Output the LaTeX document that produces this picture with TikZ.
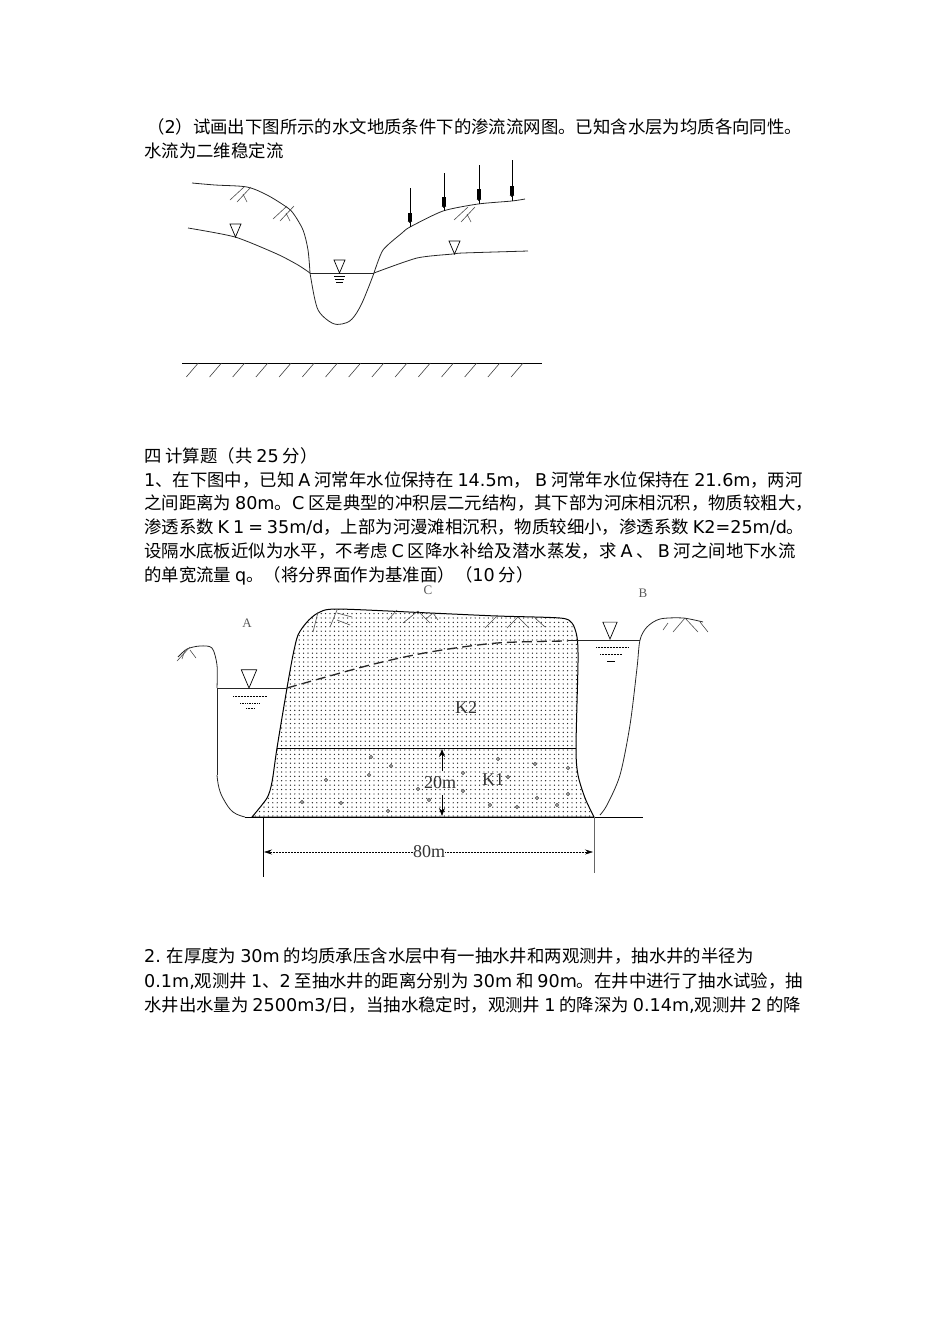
\documentclass[tikz,border=0pt]{standalone}
\usepackage{fontspec}
\usetikzlibrary{positioning, arrows.meta, patterns.meta}
\setmainfont{DejaVu Sans}
\newfontfamily\latinface[WordSpace=0.7]{DejaVu Sans}
\newfontfamily\cjkface{Noto Sans CJK SC}
\newfontfamily\figface{Liberation Serif}
% CJK characters switch the font by themselves
\chardef\cjkclass=7
\newcount\cjkcode
\cjkcode="4E00
\loop
	\XeTeXcharclass\cjkcode=\cjkclass
	\ifnum\cjkcode<"9FFF \advance\cjkcode by 1 \repeat
\XeTeXcharclass"3001=\cjkclass
\XeTeXcharclass"3002=\cjkclass
\XeTeXcharclass"FF08=\cjkclass
\XeTeXcharclass"FF09=\cjkclass
\XeTeXcharclass"FF0C=\cjkclass
\XeTeXinterchartoks 0 \cjkclass={\fontsize{17.4}{20}\cjkface}
\XeTeXinterchartoks 4095 \cjkclass={\fontsize{17.4}{20}\cjkface}
\XeTeXinterchartoks \cjkclass 0={\fontsize{17.6}{20}\latinface}
\XeTeXinterchartoks 4095 0={\fontsize{17.6}{20}\latinface}
\newcommand{\bodyfont}{\XeTeXinterchartokenstate 1\relax\fontsize{17.6}{20}\latinface}

\tikzset{
	textline/.style={inner sep=0pt, text height=14pt, text depth=4pt, anchor=north west, font=\bodyfont},
	nextline/.style={textline, below=6pt of #1.south west, anchor=north west},
	tightline/.style={textline, below=5.4pt of #1.south west, anchor=north west},
	figlabel/.style={inner sep=0pt, font=\figface\fontsize{18}{20}\selectfont, text=black!80},
	smalllabel/.style={inner sep=0pt, font=\figface\fontsize{13}{14}\selectfont, text=black!65},
	soil/.style={line width=0.8pt, black!85},
	levelmark/.pic={\draw[line width=0.7pt] (-5.5,-13) -- (5.5,-13) -- (0,0) -- cycle;},
	grassmark/.pic={
		\draw[line width=0.6pt, black!70] (0,0) -- (-14,13) (7,0) -- (-7,15) (-1,7) -- (3,15);
	},
}

\begin{document}
\begin{tikzpicture}[x=1pt, y=-1pt]
	\useasboundingbox (0,0) rectangle (950,1344);

	\node[textline] (q2a) at (147,119.5) {（2）试画出下图所示的水文地质条件下的渗流流网图。已知含水层为均质各向同性。};
	\node[textline] (q2b) at (144,143.5) {水流为二维稳定流};

	% seepage figure
	\draw[soil] plot[smooth, tension=0.5] coordinates {(192,183) (215,185) (247,187) (267,195) (285,206) (293,213) (303,230) (308,250) (310,273)};
	\draw[soil] plot[smooth, tension=0.4] coordinates {(188,228) (235,237) (277,254) (298,265) (310,273)};
	\draw[soil] (310,273) -- (374,273);
	\draw[soil] plot[smooth, tension=0.6] coordinates {(310,273) (315,300) (320,313) (332,323) (342,324) (352,319) (362,303) (374,273)};
	\draw[soil] plot[smooth, tension=0.4] coordinates {(374,273) (383,250) (402,233) (410,227) (443,211) (478,204) (512,201) (525,199)};
	\draw[soil] plot[smooth, tension=0.4] coordinates {(374,273) (417,258) (453,254) (463,253) (528,251)};
	\pic at (235.5,237) {levelmark};
	\pic at (339.5,273) {levelmark};
	\pic at (454.5,254) {levelmark};
	\draw[line width=0.7pt] (334,276) -- (345,276) (335,279) -- (344,279) (336,282) -- (343,282);
	\pic at (244,187) {grassmark};
	\pic at (287,206) {grassmark};
	\pic at (468,207) {grassmark};
	\foreach \x/\top/\blocka/\blockb/\ground in {410/188/213/223/227, 444/173/197/208/211, 479/165/189/201/204, 512/160/186/197/201} {
		\draw[line width=0.7pt] (\x,\top) -- (\x,\ground);
		\draw[line width=3.6pt, -{Triangle[length=2pt, width=4.5pt]}] (\x,\blocka) -- (\x,\blockb);
	}
	\draw[line width=0.9pt] (182,363) -- (542,363);
	\foreach \i in {0,...,14} {
		\draw[line width=0.6pt, black!75] (198.3+23.2*\i,363) -- ++(-12,14);
	}

	\node[textline] (sec) at (144,448) {四 计算题（共 25 分）};
	\node[tightline=sec] (p1) {1、在下图中，已知 A 河常年水位保持在 14.5m， B 河常年水位保持在 21.6m，两河};
	\node[tightline=p1] (p2) {之间距离为 80m。C 区是典型的冲积层二元结构，其下部为河床相沉积，物质较粗大，};
	\node[tightline=p2] (p3) {渗透系数 K 1 = 35m/d，上部为河漫滩相沉积，物质较细小，渗透系数 K2=25m/d。};
	\node[tightline=p3] (p4) {设隔水底板近似为水平，不考虑 C 区降水补给及潜水蒸发，求 A 、 B 河之间地下水流};
	\node[tightline=p4] (p5) {的单宽流量 q。（将分界面作为基准面）（10 分）};

	% river section
	\draw[line width=1pt, pattern={Dots[radius=0.7pt, distance=4.4pt]}, pattern color=black!85]
		plot[smooth, tension=0.45] coordinates {(252,817) (267,798) (272,782) (277,748) (287,688) (293,655) (298,635) (307,622) (318,613) (337,609) (430,613) (497,616) (560,618) (572,623) (577,637) (578,662) (576,748) (578,775) (585,798) (594,817)} -- cycle;
	\draw[soil] plot[smooth, tension=0.5] coordinates {(178,657) (187,649) (200,646) (212,648) (217,665) (217,688)};
	\draw[soil] (217,688) -- (217,775);
	\draw[soil] plot[smooth, tension=0.7] coordinates {(217,775) (219,788) (224,800) (233,812) (245,817)};
	\draw[soil] plot[smooth, tension=0.5] coordinates {(600,815) (607,805) (620,775) (630,725) (637,668) (640,640) (647,627) (660,619) (683,618) (703,622)};
	\draw[line width=1pt] (245,817) -- (643,817);
	\draw[line width=0.9pt] (277,748) -- (576,748);
	\draw[soil] (218,688) -- (287,688);
	\draw[soil] (568,640) -- (640,640);
	\draw[line width=1.3pt, dash pattern=on 10pt off 5pt, black!85] plot[smooth, tension=0.5] coordinates {(287,688) (370,665) (430,652) (497,643) (568,641)};
	\pic[scale=1.4] at (249,688) {levelmark};
	\pic[scale=1.3] at (610,639) {levelmark};
	\draw[line width=0.5pt, densely dotted] (233,696) -- (267,696);
	\draw[line width=0.7pt, densely dotted] (240,703) -- (260,703);
	\draw[line width=0.5pt, densely dotted] (246,708) -- (254,708);
	\draw[line width=0.5pt, densely dotted] (596,647) -- (628,647);
	\draw[line width=0.5pt, densely dotted] (600,654) -- (622,654);
	\draw[line width=1pt] (607,661) -- (615,661);
	\foreach \x/\y in {371/757, 391/766, 369/775, 326/780, 418/789, 429/800, 302/802, 341/803, 388/811, 498/759, 535/764, 568/768, 463/773, 463/791, 508/777, 568/794, 537/798, 490/805, 517/807, 557/805} {
		\draw[line width=0.5pt, black!70, fill=black!35] (\x,\y) circle (1.7);
	}
	% grass strokes on the banks
	\foreach \ax/\ay/\bx/\by in {190/647/177/661, 185/650/182/659, 190/650/196/658,
			318/612/313/632, 337/610/330/627, 337/613/352/617, 337/620/350/625,
			397/610/388/620, 418/611/403/623, 418/611/430/623, 433/613/426/619, 433/613/438/620,
			498/615/485/628, 518/617/507/628, 518/617/529/628, 535/618/545/627,
			685/618/673/632, 685/618/698/632, 700/622/708/632, 668/623/663/630} {
		\draw[line width=0.6pt, black!70] (\ax,\ay) -- (\bx,\by);
	}

	\node[figlabel] (k2) at (466,708) {K2};
	\node[figlabel] (k1) at (493,780) {K1};
	\node[figlabel] (h20) at (440,783) {20m};
	\node[figlabel] (w80) at (429,852) {80m};
	\node[smalllabel] (labela) at (247,623) {A};
	\node[smalllabel] (labelb) at (643,593) {B};
	\node[smalllabel] (labelc) at (428,590) {C};

	\coordinate (h20top) at (442,749);
	\coordinate (h20bot) at (442,816);
	\draw[-{Stealth[length=8pt, width=6pt]}, line width=0.7pt] (442,771) -- (h20top);
	\draw[-{Stealth[length=8pt, width=6pt]}, line width=0.7pt] (442,795) -- (h20bot);

	\draw[line width=0.6pt] (263,817) -- (263,877);
	\draw[line width=0.6pt, black!60] (594,817) -- (594,873);
	\coordinate (w80left) at (264,852);
	\coordinate (w80right) at (593,852);
	\draw[densely dotted, line width=0.5pt, -{Stealth[length=8pt, width=5pt]}] (w80) -- (w80left);
	\draw[densely dotted, line width=0.5pt, -{Stealth[length=8pt, width=5pt]}] (w80) -- (w80right);

	\node[textline] (w1) at (144,948.5) {2. 在厚度为 30m 的均质承压含水层中有一抽水井和两观测井，抽水井的半径为};
	\node[nextline=w1] (w2) {0.1m,观测井 1、2 至抽水井的距离分别为 30m 和 90m。在井中进行了抽水试验，抽};
	\node[nextline=w2] (w3) {水井出水量为 2500m3/日，当抽水稳定时，观测井 1 的降深为 0.14m,观测井 2 的降};
\end{tikzpicture}
\end{document}
